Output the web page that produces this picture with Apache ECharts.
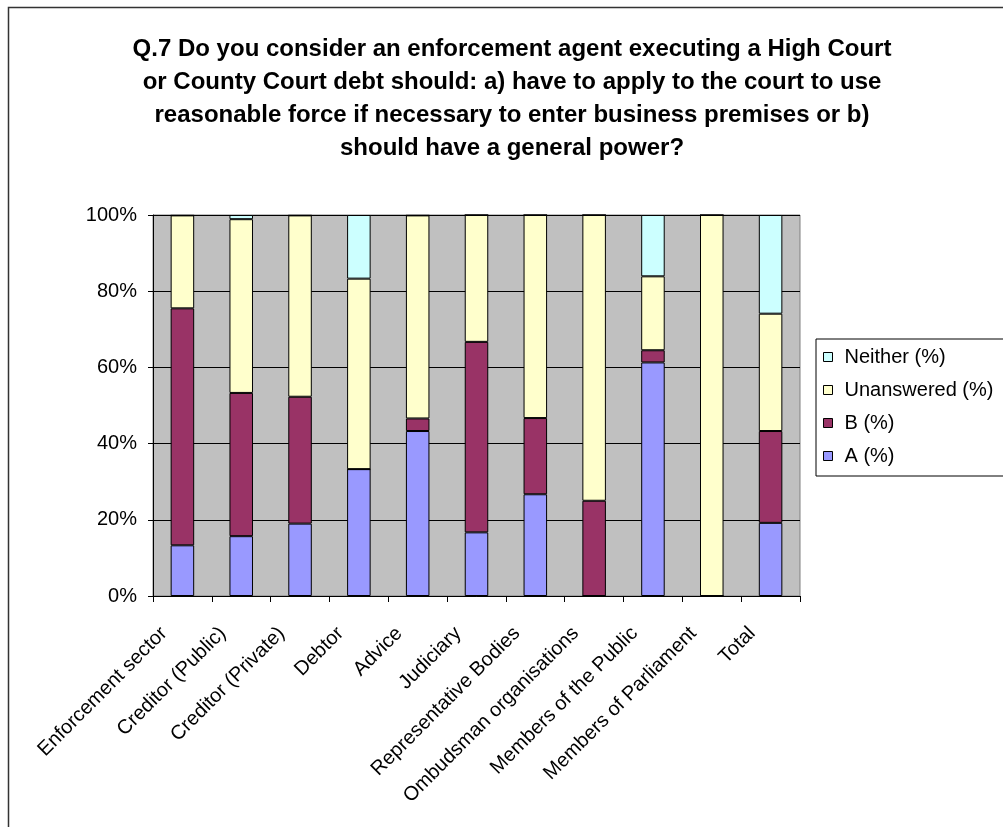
<!DOCTYPE html>
<html>
<head>
<meta charset="utf-8">
<script src="https://cdn.jsdelivr.net/npm/echarts@6/dist/echarts.min.js"></script>
<style>
  html, body { margin: 0; padding: 0; background: #fff; }
  #chart { width: 1003px; height: 827px; }
</style>
</head>
<body>
<div id="chart"></div>
<script>
// Respondent groups along the x axis
const categories = [
  'Enforcement sector', 'Creditor (Public)', 'Creditor (Private)', 'Debtor',
  'Advice', 'Judiciary', 'Representative Bodies', 'Ombudsman organisations',
  'Members of the Public', 'Members of Parliament', 'Total'
];

// Share of answers per group (%)
const answerA     = [13.3, 15.7, 19.0, 33.3, 43.3, 16.7, 26.7, 0, 61.3, 0, 19.2];
const answerB     = [62.2, 37.6, 33.3, 0, 3.3, 50.0, 20.0, 25.0, 3.2, 0, 24.1];
const unanswered  = [24.4, 45.6, 47.6, 50.0, 53.3, 33.3, 53.3, 75.0, 19.4, 100, 30.8];
const neither     = [0, 1.1, 0, 16.7, 0, 0, 0, 0, 16.1, 0, 25.9];

const yTicks = [0, 20, 40, 60, 80, 100];

const FONT = 'Arial, "Liberation Sans", sans-serif';

const chart = echarts.init(document.getElementById('chart'), null, { renderer: 'canvas' });

function barSeries(name, data, color) {
  return {
    name: name,
    type: 'bar',
    stack: 'total',
    data: data,
    barWidth: '40%',
    itemStyle: { color: color, borderColor: '#000', borderWidth: 1 },
    emphasis: { disabled: true }
  };
}

chart.setOption({
  animation: false,
  backgroundColor: '#fff',
  title: {
    text: 'Q.7 Do you consider an enforcement agent executing a High Court\n' +
          'or County Court debt should: a) have to apply to the court to use\n' +
          'reasonable force if necessary to enter business premises or b)\n' +
          'should have a general power?',
    left: 507,
    top: 28,
    textAlign: 'center',
    textStyle: {
      fontFamily: FONT, fontSize: 24, fontWeight: 'bold', color: '#000', lineHeight: 33
    }
  },
  graphic: [{
    type: 'rect',
    shape: { x: 8.5, y: 7.5, width: 1100, height: 900 },
    style: { fill: 'none', stroke: '#333', lineWidth: 1.5 },
    silent: true,
    z: 100
  }],
  legend: {
    orient: 'vertical',
    left: 816,
    top: 339,
    data: ['Neither (%)', 'Unanswered (%)', 'B (%)', 'A (%)'],
    icon: 'rect',
    itemWidth: 9,
    itemHeight: 9,
    itemGap: 13,
    padding: [8, 60, 10, 7],
    borderColor: '#000',
    borderWidth: 1,
    backgroundColor: '#fff',
    selectedMode: false,
    itemStyle: { borderColor: '#000', borderWidth: 1 },
    textStyle: { fontFamily: FONT, fontSize: 20, color: '#000', padding: [0, 0, 0, 7] }
  },
  grid: {
    left: 153,
    right: 203,
    top: 215,
    bottom: 231,
    show: true,
    backgroundColor: '#C0C0C0',
    borderColor: '#808080',
    borderWidth: 1
  },
  xAxis: {
    type: 'category',
    data: categories,
    axisLine: { lineStyle: { color: '#000', width: 1 } },
    axisTick: { show: true, length: 6, lineStyle: { color: '#000' } },
    axisLabel: {
      rotate: 45,
      interval: 0,
      margin: 16,
      padding: [0, 26, 0, 0],
      fontFamily: FONT,
      fontSize: 20,
      color: '#000'
    }
  },
  yAxis: {
    type: 'value',
    min: 0,
    max: 100,
    interval: 20,
    axisLine: { show: true, lineStyle: { color: '#000', width: 1 } },
    axisTick: { show: true, length: 5, lineStyle: { color: '#000' } },
    splitLine: { show: true, lineStyle: { color: '#000', width: 1 } },
    axisLabel: {
      margin: 16,
      fontFamily: FONT,
      fontSize: 20,
      color: '#000',
      formatter: function (v) { return yTicks.indexOf(v) >= 0 ? v + '%' : ''; }
    }
  },
  series: [
    barSeries('A (%)', answerA, '#9999FF'),
    barSeries('B (%)', answerB, '#993366'),
    barSeries('Unanswered (%)', unanswered, '#FFFFCC'),
    barSeries('Neither (%)', neither, '#CCFFFF')
  ]
});
</script>
</body>
</html>
